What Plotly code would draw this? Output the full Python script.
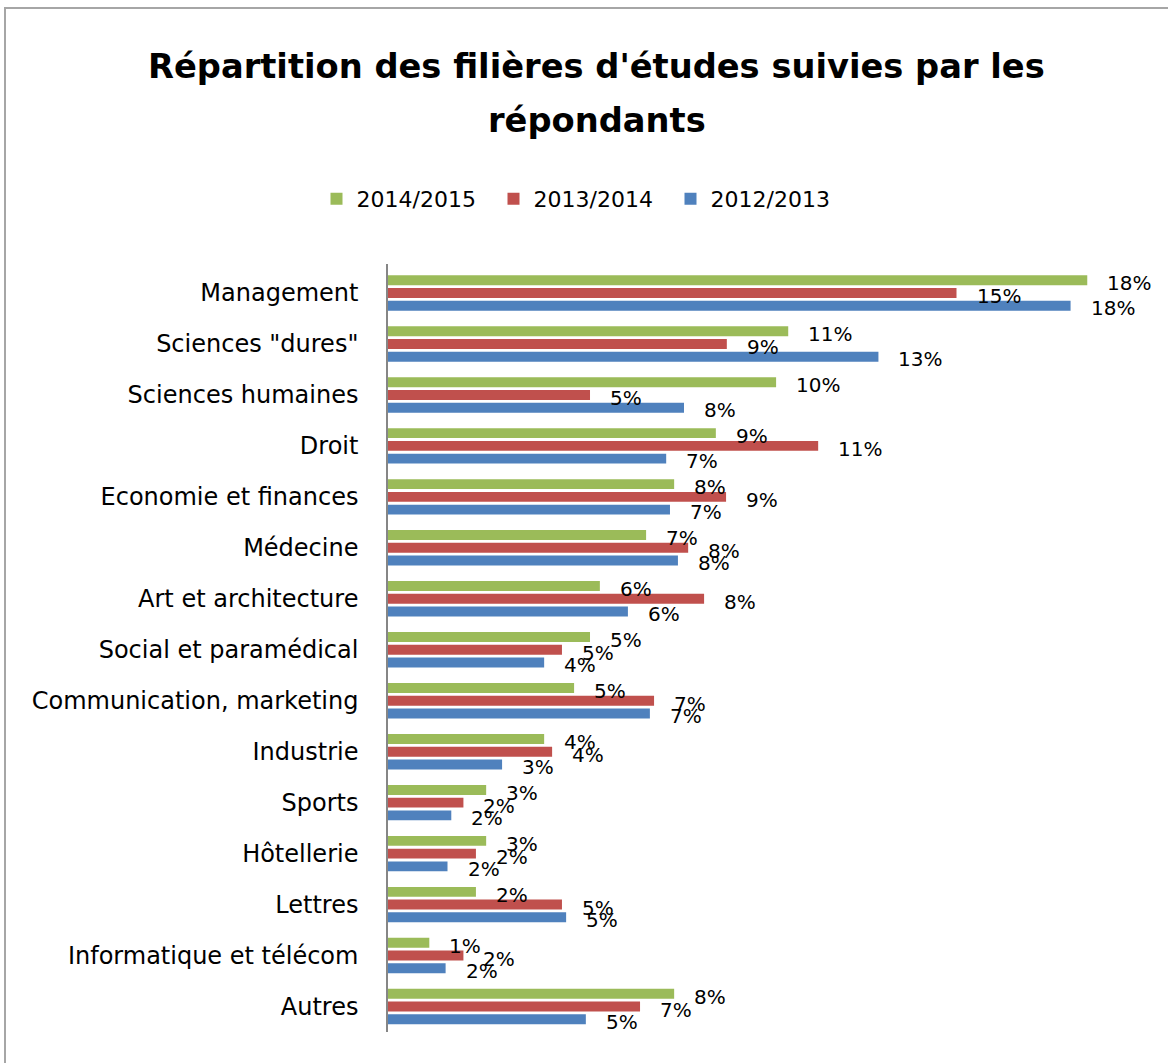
import plotly.graph_objects as go

categories = ["Management", "Sciences \"dures\"", "Sciences humaines", "Droit",
              "Economie et finances", "Médecine", "Art et architecture",
              "Social et paramédical", "Communication, marketing", "Industrie",
              "Sports", "Hôtellerie", "Lettres", "Informatique et télécom", "Autres"]

series_names = ["2014/2015", "2013/2014", "2012/2013"]

values_2014_2015 = [18.45, 10.56, 10.24, 8.65, 7.55, 6.81, 5.59, 5.33, 4.91, 4.12, 2.59, 2.59, 2.32, 1.09, 7.55]
values_2013_2014 = [15.00, 8.94, 5.33, 11.35, 8.92, 7.92, 8.34, 4.59, 7.02, 4.33, 1.99, 2.32, 4.59, 1.99, 6.65]
values_2012_2013 = [18.01, 12.94, 7.81, 7.34, 7.44, 7.65, 6.33, 4.12, 6.91, 3.01, 1.67, 1.57, 4.70, 1.52, 5.22]

colors = ["#9BBB59", "#C0504D", "#4F81BD"]
label_yshift = [10, -3, -15]

W, H = 1168, 1063
ML, MT = 388, 264
MR = W - 1146
MB = H - 1032
PW = W - ML - MR
PH = H - MT - MB

def px_x(px):
    return (px - ML) / PW

def px_y(py):
    return (H - MB - py) / PH

FONT = "DejaVu Sans"

fig = go.Figure()
all_values = [values_2014_2015, values_2013_2014, values_2012_2013]
for name, vals, col in zip(series_names, all_values, colors):
    fig.add_trace(go.Bar(
        y=categories, x=vals, name=name, orientation="h",
        marker=dict(color=col, line=dict(width=0)),
        hoverinfo="x+y+name",
    ))

annotations = []
for vals, ys in zip(all_values, label_yshift):
    for cat, v in zip(categories, vals):
        annotations.append(dict(
            x=v, y=cat, xref="x", yref="y", text=f"{round(v)}%",
            showarrow=False, xanchor="left", yanchor="middle",
            xshift=18, yshift=ys,
            font=dict(family=FONT, size=20, color="#000000"),
        ))

annotations.append(dict(
    x=px_x(596), y=px_y(66), xref="paper", yref="paper",
    text="<b>Répartition des filières d'études suivies par les</b>",
    showarrow=False, xanchor="center", yanchor="middle",
    font=dict(family=FONT, size=33.7, color="#000000"),
))
annotations.append(dict(
    x=px_x(597), y=px_y(121), xref="paper", yref="paper",
    text="<b>répondants</b>",
    showarrow=False, xanchor="center", yanchor="middle",
    font=dict(family=FONT, size=33.7, color="#000000"),
))

fig.update_layout(
    width=W, height=H,
    margin=dict(l=ML, r=MR, t=MT, b=MB, autoexpand=False),
    paper_bgcolor="white", plot_bgcolor="white",
    barmode="group", bargap=0.25, bargroupgap=0.22,
    showlegend=True,
    legend=dict(
        orientation="h", x=px_x(582), y=px_y(199),
        xanchor="center", yanchor="middle",
        font=dict(family=FONT, size=22, color="#000000"),
        traceorder="normal", entrywidth=132, entrywidthmode="pixels",
    ),
    xaxis=dict(range=[0, 20], showticklabels=False, showgrid=False,
               zeroline=False, showline=False, fixedrange=True),
    yaxis=dict(autorange="reversed", showgrid=False, zeroline=False,
               showline=True, linecolor="#868686", linewidth=1.5,
               ticks="", ticklabelstandoff=23,
               tickfont=dict(family=FONT, size=24, color="#000000")),
    annotations=annotations,
    shapes=[dict(type="rect", xref="paper", yref="paper",
                 x0=px_x(5), x1=px_x(1300), y0=px_y(1200), y1=px_y(8),
                 line=dict(color="#A6A6A6", width=2), fillcolor="rgba(0,0,0,0)",
                 layer="below")],
)

fig.write_html("out.html",
               config={"displayModeBar": False},
               post_script="document.body.style.margin='0';document.body.style.overflow='hidden';")
